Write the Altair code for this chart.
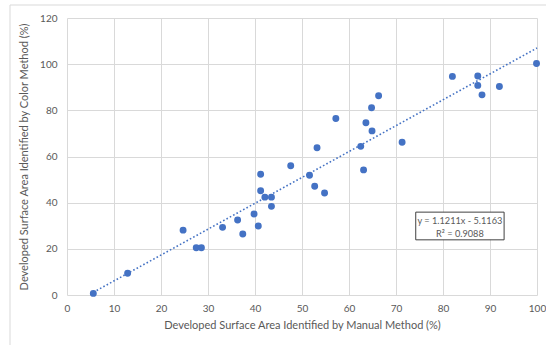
import altair as alt
import pandas as pd

# Data
manual = [5.6, 12.9, 24.7, 27.5, 28.6, 33.1, 36.3, 37.4, 39.8, 40.7,
          41.2, 41.2, 42.1, 43.5, 43.5, 47.6, 51.6, 52.7, 54.8, 53.2,
          57.2, 62.5, 63.1, 63.6, 64.9, 64.8, 66.3, 71.3, 82.0, 87.4,
          87.4, 88.3, 92.0, 99.9]
color = [0.7, 9.4, 28.1, 20.5, 20.5, 29.3, 32.5, 26.4, 35.1, 29.9,
         45.2, 52.3, 42.4, 42.4, 38.4, 56.0, 51.9, 47.1, 44.2, 63.8,
         76.5, 64.4, 54.2, 74.6, 71.1, 81.1, 86.3, 66.2, 94.7, 94.9,
         90.8, 86.7, 90.3, 100.3]

slope = 1.1211
intercept = -5.1163
trend_x = [5.6, 100.0]
eq_text = ["y = 1.1211x - 5.1163", "R² = 0.9088"]

BLUE = "#4472C4"
GRAY_TXT = "#595959"
FONT = "Lato"

W, H = 470, 277

df = pd.DataFrame({"manual": manual, "color": color})
trend = pd.DataFrame({"manual": trend_x})

xscale = alt.Scale(domain=[0, 100], nice=False)
yscale = alt.Scale(domain=[0, 120], nice=False)

xaxis = alt.Axis(values=list(range(0, 101, 10)), title="Developed Surface Area Identified by Manual Method (%)",
                 grid=True, ticks=False, domain=False, labelPadding=8, titlePadding=6,
                 labelFlush=False, labelOverlap=False)
yaxis = alt.Axis(values=list(range(0, 121, 20)), title="Developed Surface Area Identified by Color Method (%)",
                 grid=True, ticks=False, domain=False, labelPadding=10, titlePadding=10,
                 labelFlush=False)

frame = alt.Chart(pd.DataFrame({"a": [0]})).mark_rect(
    fill=None, stroke="#d9d9d9", strokeWidth=1
).encode(x=alt.value(-57), x2=alt.value(W + 30), y=alt.value(-13), y2=alt.value(H + 80))

points = alt.Chart(df).mark_circle(size=48, opacity=1, color=BLUE).encode(
    x=alt.X("manual:Q", scale=xscale, axis=xaxis),
    y=alt.Y("color:Q", scale=yscale, axis=yaxis),
)

line = alt.Chart(trend).transform_calculate(
    color=f"{slope} * datum.manual + ({intercept})"
).mark_line(color=BLUE, strokeWidth=1.6, strokeDash=[1.6, 2.2]).encode(
    x=alt.X("manual:Q", scale=xscale),
    y=alt.Y("color:Q", scale=yscale),
)

box_df = pd.DataFrame({"x": [74.2], "x2": [93.0], "y": [23.9], "y2": [35.9]})
box = alt.Chart(box_df).mark_rect(fill="white", stroke="#404040", strokeWidth=1).encode(
    x=alt.X("x:Q", scale=xscale), x2="x2:Q",
    y=alt.Y("y:Q", scale=yscale), y2="y2:Q",
)

txt_df = pd.DataFrame({"x": [83.6, 83.6], "y": [32.0, 26.6], "t": eq_text})
txt = alt.Chart(txt_df).mark_text(font=FONT, fontSize=9.2, color=GRAY_TXT, align="center", baseline="middle").encode(
    x=alt.X("x:Q", scale=xscale), y=alt.Y("y:Q", scale=yscale), text="t:N"
)

chart = alt.layer(frame, line, points, box, txt).properties(
    width=W, height=H,
    autosize=alt.AutoSizeParams(type="none"),
    padding={"left": 67, "top": 18, "right": 9, "bottom": 50},
    background="white",
).configure_view(stroke=None).configure_axis(
    gridColor="#d9d9d9", gridWidth=1,
    labelColor=GRAY_TXT, labelFont=FONT, labelFontSize=10,
    titleColor=GRAY_TXT, titleFont=FONT, titleFontSize=11, titleFontWeight="normal",
)

chart.save("out.html", embed_options={"renderer": "svg", "actions": False})
